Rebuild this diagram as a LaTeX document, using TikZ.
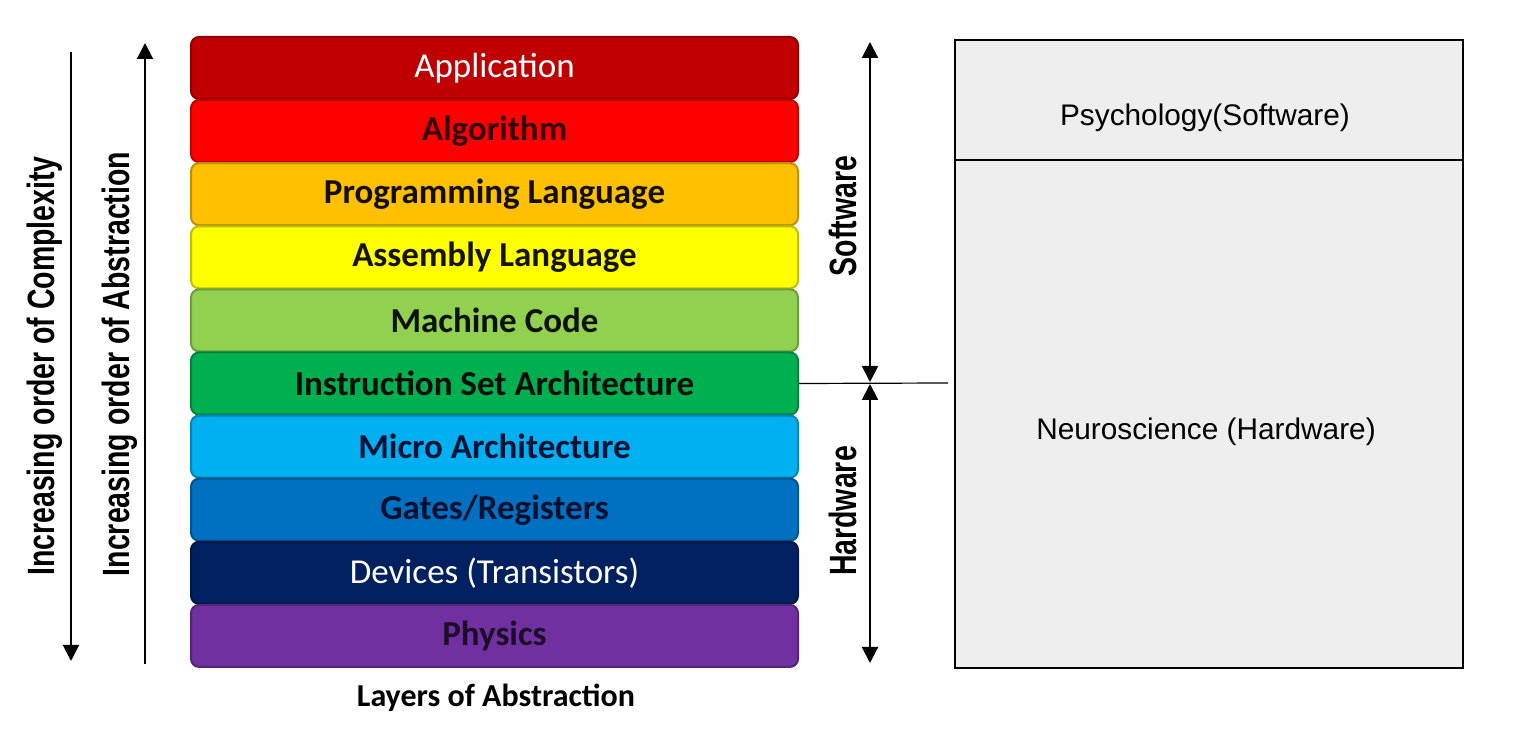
\documentclass[tikz,border=0pt]{standalone}
\usepackage{fontspec}
\setmainfont{Carlito}
\newfontfamily\arialfont{Liberation Sans}
\newfontfamily\narrowfont{Liberation Sans}[FakeStretch=0.75]
\usetikzlibrary{arrows.meta}
\definecolor{AppRed}{HTML}{C00000}
\definecolor{AlgRed}{HTML}{FF0000}
\definecolor{ProgOrange}{HTML}{FFC000}
\definecolor{AsmYellow}{HTML}{FFFF00}
\definecolor{MachGreen}{HTML}{92D050}
\definecolor{IsaGreen}{HTML}{00B050}
\definecolor{MicroBlue}{HTML}{00B0F0}
\definecolor{GateBlue}{HTML}{0070C0}
\definecolor{DevNavy}{HTML}{002060}
\definecolor{PhysPurple}{HTML}{7030A0}
\definecolor{BoxGray}{HTML}{EEEEEE}
\tikzset{
  layer/.style={draw=#1!75!black,fill=#1,rounded corners=4pt,
    minimum width=303.5pt,minimum height=31pt,inner sep=0pt,
    font=\fontsize{17.5}{20}\selectfont\bfseries,text=#1!8!black},
  sidelabel/.style={font=\narrowfont\bfseries\fontsize{19}{22}\selectfont,rotate=90},
  tip/.style={-{Triangle[width=8pt,length=8pt]}},
  tiptip/.style={{Triangle[width=8pt,length=8pt]}-{Triangle[width=8pt,length=8pt]}}
}
\begin{document}
\begin{tikzpicture}[x=0.5pt,y=-0.5pt,line width=1pt]
  \useasboundingbox (0,0) rectangle (1537,742);

  % Layers
  \node[layer=AppRed,text=white,font=\fontsize{17.5}{20}\selectfont] (app) at (494.5,68) {Application};
  \node[layer=AlgRed,text=AlgRed!20!black] (alg) at (494.5,131.1) {Algorithm};
  \node[layer=ProgOrange] (prog) at (494.5,194.2) {Programming Language};
  \node[layer=AsmYellow] (asm) at (494.5,257.3) {Assembly Language};
  \node[layer=MachGreen] (mach) at (494.5,320.4) {Machine Code};
  \node[layer=IsaGreen] (isa) at (494.5,383.5) {Instruction Set Architecture};
  \node[layer=MicroBlue,text=DevNavy!55!black] (micro) at (494.5,446.6) {Micro Architecture};
  \node[layer=GateBlue,text=DevNavy!50!black] (gates) at (494.5,509.7) {Gates/Registers};
  \node[layer=DevNavy,text=white,font=\fontsize{17.5}{20}\selectfont] (dev) at (494.5,572.8) {Devices (Transistors)};
  \node[layer=PhysPurple,text=PhysPurple!25!black] (phys) at (494.5,635.9) {Physics};
  \node[font=\fontsize{16}{19}\selectfont\bfseries] (caption) at (496,698) {Layers of Abstraction};

  % Left arrows
  \coordinate (cplxtop) at (71,52);
  \coordinate (cplxbot) at (71,661);
  \coordinate (abstop) at (145,43);
  \coordinate (absbot) at (145,664);
  \draw[tip] (cplxtop) -- (cplxbot);
  \draw[tip] (absbot) -- (abstop);
  \node[sidelabel] (cplx) at (45,366) {Increasing order of Complexity};
  \node[sidelabel] (abs) at (120,364) {Increasing order of Abstraction};

  % Software / Hardware
  \coordinate (swtop) at (870,42);
  \coordinate (split) at (870,383);
  \coordinate (hwbot) at (870,663);
  \coordinate (lineend) at (948,383);
  \draw[tiptip] (swtop) -- ([yshift=0.5pt]split);
  \draw[tiptip] ([yshift=-0.5pt]split) -- (hwbot);
  \draw[line width=0.6pt] (isa.east) -- (lineend);
  \node[sidelabel] (sw) at (843,216) {Software};
  \node[sidelabel] (hw) at (843,511) {Hardware};

  % Brain box
  \draw[fill=BoxGray] (955,40) rectangle (1463,160);
  \draw[fill=BoxGray] (955,160) rectangle (1463,668);
  \node[font=\arialfont\fontsize{14.9}{18}\selectfont] (psych) at (1205,118) {Psychology(Software)};
  \node[font=\arialfont\fontsize{14.9}{18}\selectfont] (neuro) at (1206,432) {Neuroscience (Hardware)};
\end{tikzpicture}
\end{document}
